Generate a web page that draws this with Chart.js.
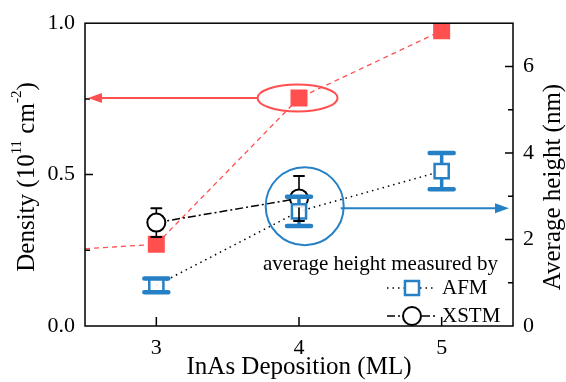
<!DOCTYPE html>
<html>
<head>
<meta charset="utf-8">
<script src="https://cdn.jsdelivr.net/npm/chart.js@4.4.1/dist/chart.umd.min.js"></script>
<style>
  html, body { margin: 0; padding: 0; background: #fff; }
  #wrap { width: 566px; height: 382px; }
</style>
</head>
<body>
<div id="wrap"><canvas id="chart"></canvas></div>
<script>
// ---- data ----
const xTicks = [3, 4, 5];
const densityX = [2.5, 3, 4, 5];
const density = [0.255, 0.27, 0.753, 0.975];          // 10^11 cm^-2
const afmX = [3, 4, 5];
const afmHeight = [0.94, 2.65, 3.58];                 // nm
const afmErr = [0.16, 0.34, 0.42];
const xstmX = [3, 4];
const xstmHeight = [2.39, 2.95];                      // nm
const xstmErr = [0.33, 0.52];
const densityTicks = [0, 0.25, 0.5, 0.75, 1];
const densityLabels = [0, 0.5, 1];
const heightTicks = [0, 1, 2, 3, 4, 5, 6, 7];
const heightLabels = [0, 2, 4, 6];

const RED = "#ff4f4f";
const BLUE = "#2580c6";
const FONT = "'Liberation Serif', 'Times New Roman', serif";

const pts = (xs, ys) => xs.map((x, i) => ({ x, y: ys[i] }));

/* --------------------------------------
   custom drawing: frame, inward ticks, error bars,
   highlight marks, legend, y titles
-------------------------------------- */
const decor = {
  id: "decor",
  afterDatasetsDraw(chart) {
    const { ctx, scales } = chart;
    const x = scales.x, y1 = scales.y1;

    // error bars
    const bars = (xs, ys, es, color, stem, capW, capLw, gap) => {
      xs.forEach((v, i) => {
        const px = x.getPixelForValue(v);
        const top = y1.getPixelForValue(ys[i] + es[i]);
        const bot = y1.getPixelForValue(ys[i] - es[i]);
        const cy = y1.getPixelForValue(ys[i]);
        ctx.save();
        ctx.strokeStyle = color;
        ctx.lineWidth = stem;
        ctx.beginPath();
        if (cy - gap > top) { ctx.moveTo(px, cy - gap); ctx.lineTo(px, top); }
        if (cy + gap < bot) { ctx.moveTo(px, cy + gap); ctx.lineTo(px, bot); }
        ctx.stroke();
        ctx.lineWidth = capLw;
        ctx.lineCap = "round";
        ctx.beginPath();
        ctx.moveTo(px - capW / 2, top); ctx.lineTo(px + capW / 2, top);
        ctx.moveTo(px - capW / 2, bot); ctx.lineTo(px + capW / 2, bot);
        ctx.stroke();
        ctx.restore();
      });
    };
    bars(afmX, afmHeight, afmErr, BLUE, 3.5, 24, 4.5, 7);
    bars(xstmX, xstmHeight, xstmErr, "#000", 1.6, 10, 2, 9);
  },
  afterDraw(chart) {
    const { ctx, chartArea: a, scales } = chart;
    const x = scales.x, y = scales.y, y1 = scales.y1;
    ctx.save();

    // frame
    ctx.strokeStyle = "#000";
    ctx.lineWidth = 1.5;
    ctx.strokeRect(a.left, a.top, a.right - a.left, a.bottom - a.top);

    // inward ticks
    ctx.beginPath();
    xTicks.forEach(v => {
      const px = x.getPixelForValue(v);
      ctx.moveTo(px, a.bottom); ctx.lineTo(px, a.bottom - 9);
    });
    densityTicks.slice(1, -1).forEach(v => {
      const py = y.getPixelForValue(v);
      const len = densityLabels.includes(v) ? 8 : 5;
      ctx.moveTo(a.left, py); ctx.lineTo(a.left + len, py);
    });
    heightTicks.slice(1, -1).forEach(v => {
      const py = y1.getPixelForValue(v);
      const len = heightLabels.includes(v) ? 8 : 5;
      ctx.moveTo(a.right, py); ctx.lineTo(a.right - len, py);
    });
    ctx.stroke();

    // red ellipse + arrow to the density axis
    const ex = x.getPixelForValue(3.99), ey = y.getPixelForValue(0.753);
    ctx.strokeStyle = RED; ctx.fillStyle = RED; ctx.lineWidth = 2;
    ctx.beginPath(); ctx.ellipse(ex, ey, 40, 13.5, 0, 0, Math.PI * 2); ctx.stroke();
    ctx.beginPath(); ctx.moveTo(ex - 40, ey); ctx.lineTo(a.left + 14, ey); ctx.stroke();
    ctx.beginPath();
    ctx.moveTo(a.left + 3, ey); ctx.lineTo(a.left + 17, ey - 5); ctx.lineTo(a.left + 17, ey + 5);
    ctx.closePath(); ctx.fill();

    // blue circle + arrow to the height axis
    const cx = x.getPixelForValue(4.04), cy = y1.getPixelForValue(2.77);
    const ay = y1.getPixelForValue(2.72);
    ctx.strokeStyle = BLUE; ctx.fillStyle = BLUE;
    ctx.beginPath(); ctx.arc(cx, cy, 39, 0, Math.PI * 2); ctx.stroke();
    ctx.beginPath(); ctx.moveTo(cx + 36, ay); ctx.lineTo(a.right - 14, ay); ctx.stroke();
    ctx.beginPath();
    ctx.moveTo(a.right - 4, ay); ctx.lineTo(a.right - 18, ay - 5); ctx.lineTo(a.right - 18, ay + 5);
    ctx.closePath(); ctx.fill();

    // legend
    ctx.fillStyle = "#000";
    ctx.font = "21px " + FONT;
    ctx.textBaseline = "middle";
    ctx.textAlign = "left";
    ctx.fillText("average height measured by", 263, 264);
    ctx.fillText("AFM", 442, 288);
    ctx.fillText("XSTM", 442, 316);
    ctx.strokeStyle = "#000"; ctx.lineWidth = 1.5;
    ctx.setLineDash([1.5, 4]);
    ctx.beginPath(); ctx.moveTo(387, 288); ctx.lineTo(404, 288); ctx.moveTo(420, 288); ctx.lineTo(436, 288); ctx.stroke();
    ctx.setLineDash([8, 3, 2, 3]);
    ctx.beginPath(); ctx.moveTo(387, 316); ctx.lineTo(402, 316); ctx.moveTo(422, 316); ctx.lineTo(437, 316); ctx.stroke();
    ctx.setLineDash([]);
    ctx.fillStyle = "#fff";
    ctx.fillRect(405, 281, 14, 14);
    ctx.strokeStyle = BLUE; ctx.lineWidth = 2.5;
    ctx.strokeRect(405, 281, 14, 14);
    ctx.strokeStyle = "#000"; ctx.lineWidth = 2;
    ctx.beginPath(); ctx.arc(412, 316, 9, 0, Math.PI * 2); ctx.fill(); ctx.stroke();
    ctx.fillStyle = "#000";

    // left title with superscripts
    const parts = [
      { t: "Density (10", s: false }, { t: "11", s: true },
      { t: " cm", s: false }, { t: "-2", s: true }, { t: ")", s: false }
    ];
    const big = "25px " + FONT, small = "15px " + FONT;
    let total = 0;
    parts.forEach(p => { ctx.font = p.s ? small : big; p.w = ctx.measureText(p.t).width; total += p.w; });
    ctx.save();
    ctx.translate(27, 177);
    ctx.rotate(-Math.PI / 2);
    let px = -total / 2;
    parts.forEach(p => {
      ctx.font = p.s ? small : big;
      ctx.fillText(p.t, px, p.s ? -10 : 0);
      px += p.w;
    });
    ctx.restore();

    // right title
    ctx.save();
    ctx.translate(553, 187);
    ctx.rotate(-Math.PI / 2);
    ctx.font = "25px " + FONT;
    ctx.textAlign = "center";
    ctx.fillText("Average height (nm)", 0, 0);
    ctx.restore();

    ctx.restore();
  }
};

new Chart(document.getElementById("chart"), {
  type: "scatter",
  data: {
    datasets: [
      {
        label: "AFM",
        data: pts(afmX, afmHeight),
        yAxisID: "y1",
        showLine: true,
        borderColor: "#000",
        borderWidth: 1.5,
        borderDash: [1.5, 4],
        pointStyle: "rect",
        pointRadius: 10,
        pointBackgroundColor: "rgba(255,255,255,0.9)",
        pointBorderColor: BLUE,
        pointBorderWidth: 2.5,
      },
      {
        label: "XSTM",
        data: pts(xstmX, xstmHeight),
        yAxisID: "y1",
        showLine: true,
        borderColor: "#000",
        borderWidth: 1.5,
        borderDash: [8, 3, 2, 3],
        pointStyle: "circle",
        pointRadius: 9,
        pointBackgroundColor: "#fff",
        pointBorderColor: "#000",
        pointBorderWidth: 2,
      },
      {
        label: "Density",
        data: pts(densityX, density),
        yAxisID: "y",
        showLine: true,
        borderColor: RED,
        borderWidth: 1.3,
        borderDash: [5, 4],
        pointStyle: "rect",
        pointRadius: [0, 12, 12, 12],
        pointBackgroundColor: RED,
        pointBorderColor: RED,
        pointBorderWidth: 0,
      },
    ],
  },
  options: {
    responsive: true,
    maintainAspectRatio: false,
    animation: false,
    devicePixelRatio: 1,
    layout: { padding: { top: 19, left: 0, right: 0, bottom: 0 } },
    plugins: { legend: { display: false }, tooltip: { enabled: false } },
    scales: {
      x: {
        type: "linear",
        min: 2.5,
        max: 5.5,
        afterBuildTicks: (s) => { s.ticks = xTicks.map(v => ({ value: v })); },
        afterFit: (s) => { s.height = 56; },
        grid: { display: false, drawTicks: false },
        border: { display: false },
        ticks: { autoSkip: false, maxRotation: 0, padding: 9, color: "#000", font: { family: FONT, size: 22 } },
        title: { display: true, text: "InAs Deposition (ML)", color: "#000", padding: { top: 0, bottom: 0 }, font: { family: FONT, size: 25 } },
      },
      y: {
        position: "left",
        min: 0,
        max: 1,
        afterBuildTicks: (s) => { s.ticks = densityTicks.map(v => ({ value: v })); },
        afterFit: (s) => { s.width = 85; },
        grid: { display: false, drawTicks: false },
        border: { display: false },
        ticks: {
          autoSkip: false, padding: 10, color: "#000", font: { family: FONT, size: 22 },
          callback: (v) => densityLabels.includes(v) ? v.toFixed(1) : "",
        },
      },
      y1: {
        position: "right",
        min: 0,
        max: 7,
        afterBuildTicks: (s) => { s.ticks = heightTicks.map(v => ({ value: v })); },
        afterFit: (s) => { s.width = 53; },
        grid: { display: false, drawTicks: false },
        border: { display: false },
        ticks: {
          autoSkip: false, padding: 10, color: "#000", font: { family: FONT, size: 22 },
          callback: (v) => heightLabels.includes(v) ? String(v) : "",
        },
      },
    },
  },
  plugins: [decor],
});
</script>
</body>
</html>
